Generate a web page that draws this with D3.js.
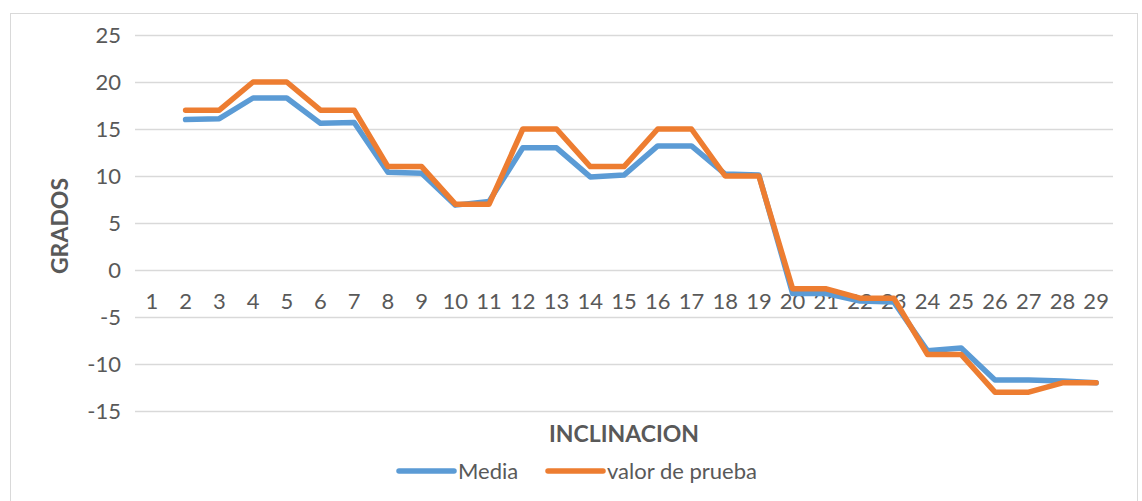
<!DOCTYPE html>
<html>
<head>
<meta charset="utf-8">
<script src="https://cdn.jsdelivr.net/npm/d3@7"></script>
<style>
  body { margin: 0; background: #fff; }
  text { font-family: Lato, "Open Sans", sans-serif; fill: #595959; }
  .grid line { stroke: #d9d9d9; stroke-width: 1.5; }
  .grid path { display: none; }
</style>
</head>
<body>
<svg width="1142" height="501"></svg>
<script>
// categories on the x axis (inclinacion)
const categories = d3.range(1, 30).map(String);

// series values, null where there is no point
const media = [null, 16, 16.1, 18.3, 18.3, 15.6, 15.7, 10.4, 10.3, 6.9, 7.3, 13, 13, 9.9, 10.1,
  13.2, 13.2, 10.2, 10.1, -2.5, -2.5, -3.3, -3.4, -8.6, -8.3, -11.7, -11.7, -11.8, -12];
const valorPrueba = [null, 17, 17, 20, 20, 17, 17, 11, 11, 7, 7, 15, 15, 11, 11,
  15, 15, 10, 10, -2, -2, -3, -3, -9, -9, -13, -13, -12, -12];

const yTicks = [25, 20, 15, 10, 5, 0, -5, -10, -15];

const series = [
  { name: 'Media', values: media, color: '#5b9bd5' },
  { name: 'valor de prueba', values: valorPrueba, color: '#ed7d31' }
];

const plotLeft = 135, plotRight = 1113, plotTop = 35, plotBottom = 411;

const svg = d3.select('svg');

// chart frame
svg.append('rect')
    .attr('x', 10.5).attr('y', 13.5)
    .attr('width', 1127).attr('height', 520)
    .attr('fill', 'none')
    .attr('stroke', '#d9d9d9');

const xScale = d3.scaleBand()
    .domain(categories)
    .range([plotLeft, plotRight]);

const yScale = d3.scaleLinear()
    .domain([-15, 25])
    .range([plotBottom, plotTop]);

// horizontal gridlines + y labels (plain hyphen for negatives, like Excel)
const yAxis = svg.append('g')
    .attr('class', 'grid')
    .attr('transform', `translate(${plotLeft}, 0)`)
    .call(d3.axisLeft(yScale)
        .tickValues(yTicks)
        .tickSize(-(plotRight - plotLeft))
        .tickPadding(14)
        .tickFormat((d) => String(d)));

yAxis.selectAll('text')
    .attr('font-size', 22)
    .style('font-family', 'Lato, sans-serif')
    .attr('fill', '#595959');

// category labels sit under the zero line
const xAxis = svg.append('g')
    .attr('transform', `translate(0, ${yScale(0)})`)
    .call(d3.axisBottom(xScale).tickSize(0).tickPadding(23));

xAxis.select('.domain').remove();
xAxis.selectAll('text')
    .attr('font-size', 22)
    .style('font-family', 'Lato, sans-serif')
    .attr('fill', '#595959');

// lines
const line = d3.line()
    .defined((d) => d != null)
    .x((d, i) => xScale(categories[i]) + xScale.bandwidth() / 2)
    .y((d) => yScale(d));

svg.append('g')
    .selectAll('path')
    .data(series)
    .enter()
    .append('path')
    .attr('d', (s) => line(s.values))
    .attr('fill', 'none')
    .attr('stroke', (s) => s.color)
    .attr('stroke-width', 5.5)
    .attr('stroke-linejoin', 'round')
    .attr('stroke-linecap', 'round');

// axis titles
svg.append('text')
    .attr('transform', 'translate(68, 226) rotate(-90)')
    .attr('text-anchor', 'middle')
    .attr('font-size', 23)
    .attr('font-weight', 'bold')
    .text('GRADOS');

svg.append('text')
    .attr('x', 624)
    .attr('y', 442)
    .attr('text-anchor', 'middle')
    .attr('font-size', 23)
    .attr('font-weight', 'bold')
    .text('INCLINACION');

// legend
const legendX = [399, 548];
const legend = svg.append('g')
    .selectAll('g')
    .data(series)
    .enter()
    .append('g')
    .attr('transform', (s, i) => `translate(${legendX[i]}, 471)`);

legend.append('line')
    .attr('x1', 0).attr('x2', 55)
    .attr('stroke', (s) => s.color)
    .attr('stroke-width', 5.5)
    .attr('stroke-linecap', 'round');

legend.append('text')
    .attr('x', 59)
    .attr('y', 8)
    .attr('font-size', 22)
    .text((s) => s.name);
</script>
</body>
</html>
